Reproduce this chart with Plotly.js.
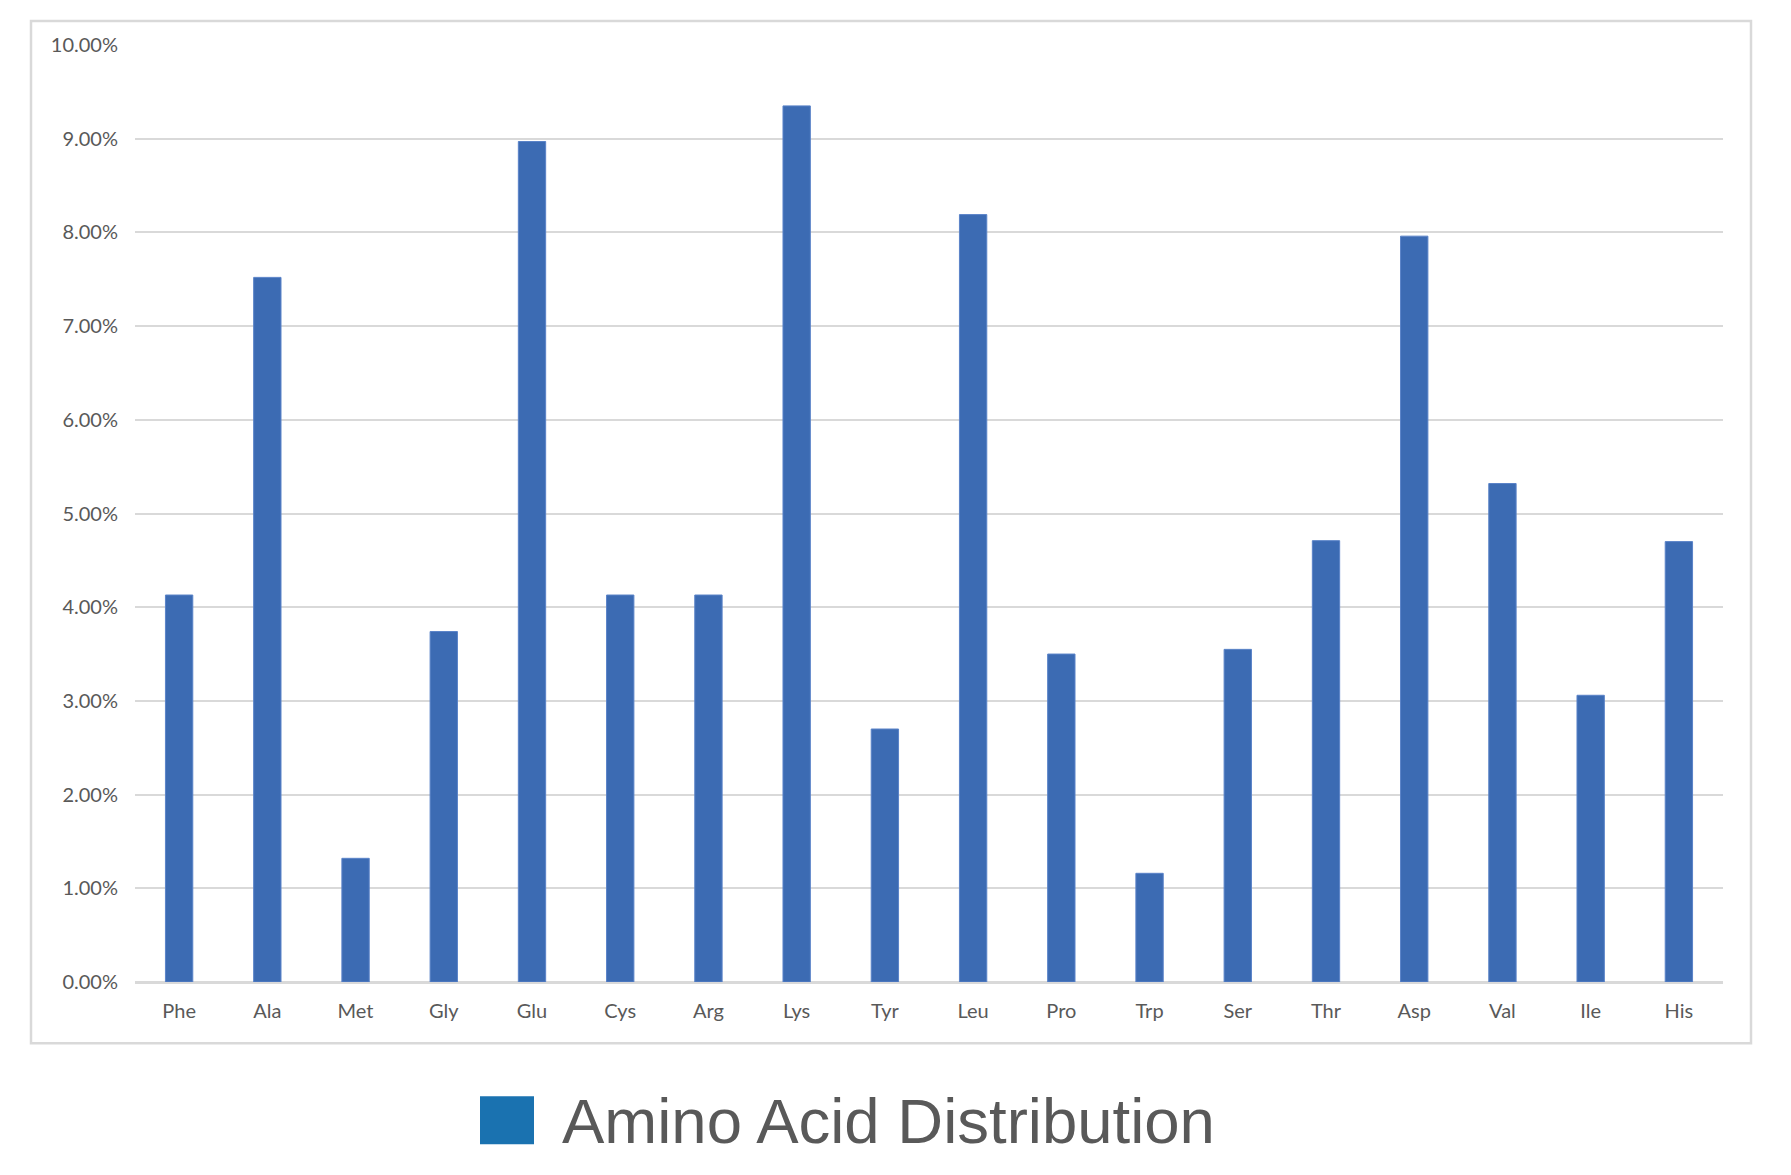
<!DOCTYPE html>
<html>
<head>
<meta charset="utf-8">
<script src="https://cdn.plot.ly/plotly-3.0.1.min.js"></script>
<style>html,body{margin:0;padding:0;background:#fff;}#chart{width:1791px;height:1175px;}</style>
</head>
<body>
<div id="chart"></div>
<script>
const categories = ["Phe","Ala","Met","Gly","Glu","Cys","Arg","Lys","Tyr","Leu","Pro","Trp","Ser","Thr","Asp","Val","Ile","His"];
const values = [0.0413,0.0752,0.0132,0.0374,0.0897,0.0413,0.0413,0.0935,0.0270,0.0819,0.0350,0.0116,0.0355,0.0471,0.0796,0.0532,0.0306,0.0470];
const seriesName = "Amino Acid Distribution";
const yTickVals = [0,0.01,0.02,0.03,0.04,0.05,0.06,0.07,0.08,0.09,0.10];

const W = 1791, H = 1175;
const L = 135, R = 1723, T = 45, B = 981.7;
const px = v => (v - L) / (R - L);
const py = v => (B - v) / (B - T);

const trace = {
  type: 'bar',
  x: categories,
  y: values,
  name: seriesName,
  marker: {color: '#3c6bb3', line: {color: '#5a83c8', width: 1}},
  showlegend: false,
  hoverinfo: 'x+y'
};

const layout = {
  width: W, height: H,
  margin: {l: L, r: W - R, t: T, b: H - B, pad: 0},
  paper_bgcolor: '#ffffff',
  plot_bgcolor: '#ffffff',
  font: {family: 'Lato, Carlito, "Open Sans", sans-serif', color: '#595959', size: 20},
  bargap: 0.69,
  xaxis: {
    showline: false, showgrid: false, zeroline: false,
    ticks: '', ticklabelstandoff: 15,
    tickfont: {size: 20, color: '#595959'},
    fixedrange: true
  },
  yaxis: {
    range: [0, 0.10],
    tickvals: yTickVals,
    tickformat: '.2%',
    showgrid: true, gridcolor: '#d9d9d9', gridwidth: 2,
    zeroline: true, zerolinecolor: '#d9d9d9', zerolinewidth: 2.5,
    showline: false, ticks: '', ticklabelstandoff: 16,
    tickfont: {size: 20, color: '#595959'},
    fixedrange: true
  },
  shapes: [
    {type: 'rect', xref: 'paper', yref: 'paper', layer: 'below',
     x0: px(31), x1: px(1751), y0: py(1043), y1: py(21),
     line: {color: '#d9d9d9', width: 2.5}, fillcolor: 'rgba(0,0,0,0)'},
    {type: 'rect', xref: 'paper', yref: 'paper',
     x0: px(480), x1: px(534), y0: py(1144), y1: py(1096),
     line: {width: 0}, fillcolor: '#1a72b0'}
  ],
  annotations: [
    {xref: 'paper', yref: 'paper', x: px(560), y: py(1121), xanchor: 'left', yanchor: 'middle',
     text: seriesName, showarrow: false,
     font: {family: '"Liberation Sans", Arial, sans-serif', size: 63.5, color: '#595959'}}
  ]
};

Plotly.newPlot('chart', [trace], layout, {displayModeBar: false, responsive: false});
</script>
</body>
</html>
